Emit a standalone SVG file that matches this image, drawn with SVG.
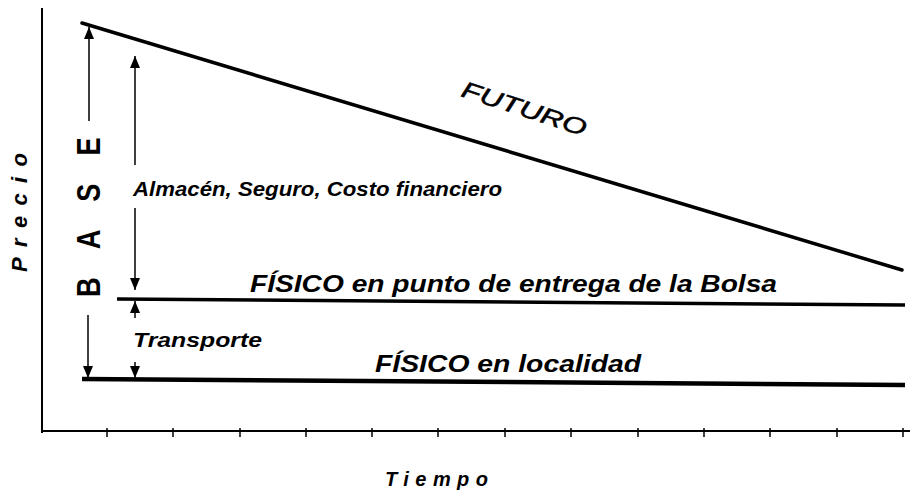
<svg xmlns="http://www.w3.org/2000/svg" width="915" height="499" viewBox="0 0 915 499">
<style>
.ax{stroke:#000;stroke-width:2;fill:none}
.tk{stroke:#000;stroke-width:1.5}
.ar{stroke:#000;stroke-width:1.5;fill:none;marker-end:url(#ah)}
.t{font-family:"Liberation Sans",Arial,sans-serif;font-weight:bold;font-style:italic;fill:#000}
</style>
<defs>
<marker id="ah" viewBox="0 0 12 10" refX="12" refY="5" markerWidth="13" markerHeight="10" markerUnits="userSpaceOnUse" orient="auto">
<path d="M0,0 L12,5 L0,10 z" fill="#000"/>
</marker>
</defs>
<g id="axes">
<line class="ax" x1="42" y1="8" x2="42" y2="433"/>
<line class="ax" x1="42" y1="431" x2="910" y2="431"/>
<g id="ticks">
<line class="tk" x1="107" y1="428" x2="107" y2="437"/>
<line class="tk" x1="173" y1="428" x2="173" y2="437"/>
<line class="tk" x1="240" y1="428" x2="240" y2="437"/>
<line class="tk" x1="306" y1="428" x2="306" y2="437"/>
<line class="tk" x1="372" y1="428" x2="372" y2="437"/>
<line class="tk" x1="438" y1="428" x2="438" y2="437"/>
<line class="tk" x1="505" y1="428" x2="505" y2="437"/>
<line class="tk" x1="571" y1="428" x2="571" y2="437"/>
<line class="tk" x1="638" y1="428" x2="638" y2="437"/>
<line class="tk" x1="704" y1="428" x2="704" y2="437"/>
<line class="tk" x1="770" y1="428" x2="770" y2="437"/>
<line class="tk" x1="837" y1="428" x2="837" y2="437"/>
<line class="tk" x1="903" y1="428" x2="903" y2="437"/>
</g>
<text class="t" transform="translate(27,272) rotate(-90)" font-size="22" textLength="119">Precio</text>
<text class="t" x="385" y="486" font-size="20" textLength="103">Tiempo</text>
</g>
<g id="futuro">
<line x1="82" y1="23" x2="902" y2="270" stroke="#000" stroke-width="3.5" stroke-linecap="round"/>
<text transform="translate(460,96) rotate(18)" font-family="'Liberation Sans',Arial,sans-serif" font-style="italic" font-size="23" stroke="#000" stroke-width="0.5" textLength="130" lengthAdjust="spacingAndGlyphs">FUTURO</text>
</g>
<g id="fisico-bolsa">
<line x1="117" y1="299" x2="905" y2="305" stroke="#000" stroke-width="3.5"/>
<text class="t" x="250" y="292" font-size="24" textLength="527" lengthAdjust="spacingAndGlyphs">FÍSICO en punto de entrega de la Bolsa</text>
</g>
<g id="fisico-localidad">
<line x1="82" y1="379" x2="905" y2="385" stroke="#000" stroke-width="4.5"/>
<text class="t" x="375" y="372" font-size="24" textLength="266" lengthAdjust="spacingAndGlyphs">FÍSICO en localidad</text>
</g>
<g id="base">
<text transform="translate(100,297) rotate(-90) scale(0.8,1)" font-family="'Liberation Sans',Arial,sans-serif" font-weight="bold" font-size="34" letter-spacing="35">BASE</text>
</g>
<g id="almacen">
<text class="t" x="133" y="196" font-size="21" textLength="369" lengthAdjust="spacingAndGlyphs">Almacén, Seguro, Costo financiero</text>
</g>
<g id="transporte">
<text class="t" x="133" y="347" font-size="21" textLength="129" lengthAdjust="spacingAndGlyphs">Transporte</text>
</g>
<g id="connectors">
<line class="ar" x1="89" y1="121" x2="89" y2="27"/>
<line class="ar" x1="88" y1="315" x2="88" y2="378"/>
<line class="ar" x1="135" y1="165" x2="135" y2="56"/>
<line class="ar" x1="135" y1="208" x2="135" y2="290"/>
<line class="ar" x1="135" y1="318" x2="135" y2="301"/>
<line class="ar" x1="135" y1="362" x2="135" y2="378"/>
</g>
</svg>
